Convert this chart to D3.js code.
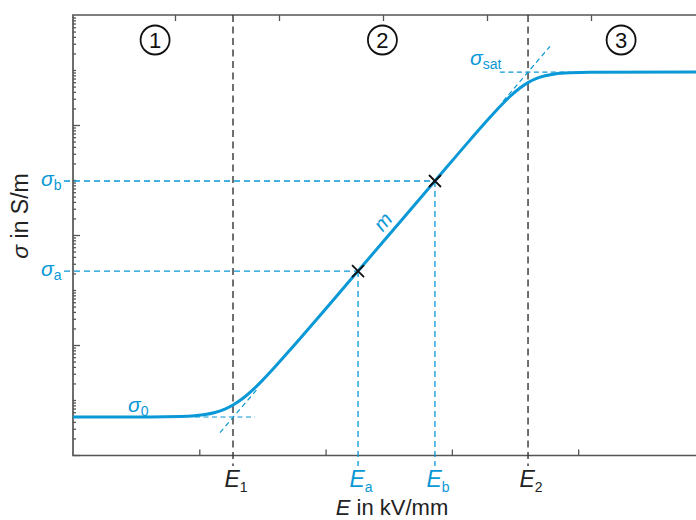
<!DOCTYPE html>
<html><head><meta charset="utf-8">
<script src="https://cdn.jsdelivr.net/npm/d3@7"></script>
<style>body{margin:0;background:#fff}text{font-family:"Liberation Sans",Arial,sans-serif}</style>
</head><body>
<svg id="c" width="696" height="520"></svg>
<script>
// ---- data ----
const curveE     = [0, 0.610, 0.847, 0.966, 1.045, 1.124, 1.203, 1.267, 1.338, 1.417, 1.496, 1.599, 1.718, 2.257, 2.866, 3.143, 3.302, 3.381, 3.460, 3.539, 3.603, 3.666, 3.737, 3.816, 3.935, 4.093, 4.933];
const curveSigma = [4.91, 4.92, 5.01, 5.19, 5.43, 5.93, 6.84, 8.11, 10.4, 14.8, 22.3, 40.0, 81.1, 2213, 95940, 5.31e5, 1.38e6, 2.17e6, 3.30e6, 4.71e6, 5.90e6, 6.95e6, 7.87e6, 8.49e6, 8.93e6, 9.12e6, 9.16e6];
const fieldNames  = ["1", "a", "b", "2"];
const fieldValues = [1.267, 2.257, 2.866, 3.603];
const fieldBlue   = [false, true, true, false];
const sigma0 = 4.91, sigmaSat = 9.16e6;
const pointE     = [2.257, 2.866];
const pointSigma = [2213, 95940];
const pointNames = ["a", "b"];
const regionLabels = ["1", "2", "3"];
const regionE      = [0.65, 2.45, 4.34];
const xTicksBottom = [1, 2, 3, 4];
const xTicksTop    = [1, 2, 3, 4, 5];

// ---- setup ----
const W = 696, H = 520;
const L = 73, T = 15, B = 455.5, R = 696;
const blue = "#0a98d6", ink = "#222", axisCol = "#555";
const svg = d3.select("#c");
const x = d3.scaleLinear().domain([0, 4.933]).range([L, R]);
const xTop = d3.scaleLinear().domain([0, 6]).range([71, 695]);
const y = d3.scaleLog().domain([1, 1e8]).range([B - 0.5, T]);

// log slope line through points a and b
const la = Math.log10(pointSigma[0]), lb = Math.log10(pointSigma[1]);
const slope = (lb - la) / (pointE[1] - pointE[0]);
const lineSigma = E => Math.pow(10, la + (E - pointE[0]) * slope);

// ---- axes ----
const gB = svg.append("g").attr("transform", `translate(0,${B})`)
  .call(d3.axisBottom(x).tickValues(xTicksBottom).tickSize(-6).tickFormat(""));
const gT = svg.append("g").attr("transform", `translate(0,${T})`)
  .call(d3.axisTop(xTop).tickValues(xTicksTop).tickSize(-6).tickFormat(""));
const yTicks = [];
for (let e = 0; e < 8; e++) for (let m = 1; m <= 9; m++) yTicks.push(m * Math.pow(10, e));
const gL = svg.append("g").attr("transform", `translate(${L},0)`)
  .call(d3.axisLeft(y).tickValues(yTicks).tickSize(-3).tickFormat(""));
gL.selectAll(".tick line").attr("x2", d => {
  const e = Math.round(Math.log10(d));
  const isDec = Math.abs(d - Math.pow(10, e)) < 1e-9 * d;
  return isDec && e % 2 === 0 ? 7 : 3;
});
[gB, gT, gL].forEach(g => {
  g.select(".domain").remove();
  g.selectAll(".tick line").attr("stroke", axisCol).attr("stroke-width", 1.3);
});
// frame
svg.append("path").attr("d", `M${R},${T}H${L}V${B}H${R}`)
  .attr("fill", "none").attr("stroke", axisCol).attr("stroke-width", 1.7);

// ---- dashed guide lines ----
fieldValues.forEach((E, i) => {
  const x0 = x(E);
  if (fieldBlue[i]) {
    const s = pointSigma[i - 1];
    svg.append("line").attr("x1", x0).attr("x2", x0).attr("y1", y(s)).attr("y2", 466)
      .attr("stroke", blue).attr("stroke-width", 1.3).attr("stroke-dasharray", "6,4");
    svg.append("line").attr("x1", 64).attr("x2", x0).attr("y1", y(s)).attr("y2", y(s))
      .attr("stroke", blue).attr("stroke-width", 1.3).attr("stroke-dasharray", "6,4");
  } else {
    svg.append("line").attr("x1", x0).attr("x2", x0).attr("y1", T).attr("y2", 466)
      .attr("stroke", "#333").attr("stroke-width", 1.4).attr("stroke-dasharray", "7,4.5");
  }
});
// tangents
const tang = [
  [[0.966, sigma0], [1.441, sigma0]],
  [[1.164, lineSigma(1.164)], [1.465, lineSigma(1.465)]],
  [[3.38, sigmaSat], [3.93, sigmaSat]],
  [[3.405, lineSigma(3.405)], [3.777, lineSigma(3.777)]]
];
tang.forEach(t => svg.append("line")
  .attr("x1", x(t[0][0])).attr("y1", y(t[0][1])).attr("x2", x(t[1][0])).attr("y2", y(t[1][1]))
  .attr("stroke", blue).attr("stroke-width", 1.2).attr("stroke-dasharray", "5,3.5"));

// ---- curve ----
const pts = curveE.map((E, i) => [E, curveSigma[i]]);
svg.append("path").datum(pts)
  .attr("d", d3.line().x(d => x(d[0])).y(d => y(d[1])).curve(d3.curveMonotoneX))
  .attr("fill", "none").attr("stroke", blue).attr("stroke-width", 3);

// crosses
pointE.forEach((E, i) => {
  const cx = x(E), cy = y(pointSigma[i]), r = 6;
  svg.append("path").attr("d", `M${cx - r},${cy - r}L${cx + r},${cy + r}M${cx - r},${cy + r}L${cx + r},${cy - r}`)
    .attr("stroke", "#111").attr("stroke-width", 1.8);
});

// ---- texts ----
function sub(sel, main, subTxt, size, subSize, italicMain) {
  sel.append("tspan").text(main).attr("font-style", italicMain ? "italic" : null).attr("font-size", size);
  sel.append("tspan").text(subTxt).attr("font-size", subSize).attr("dy", size * 0.2);
}
// E labels
fieldValues.forEach((E, i) => {
  const t = svg.append("text").attr("x", x(E) + 3).attr("y", 487).attr("text-anchor", "middle")
    .attr("fill", fieldBlue[i] ? blue : ink);
  sub(t, "E", fieldNames[i], 23, 14, true);
});
// sigma labels on y
pointSigma.forEach((s, i) => {
  const t = svg.append("text").attr("x", 41).attr("y", y(s) + 5).attr("fill", blue);
  sub(t, "σ", pointNames[i], 21, 14, true);
});
{
  const t = svg.append("text").attr("x", 128).attr("y", 412).attr("fill", blue);
  sub(t, "σ", "0", 21, 14, true);
  const t2 = svg.append("text").attr("x", 470).attr("y", 65).attr("fill", blue);
  sub(t2, "σ", "sat", 21, 14, true);
}
// slope label m
svg.append("text").attr("transform", `translate(388,226) rotate(-50)`)
  .attr("text-anchor", "middle").attr("fill", blue).attr("font-style", "italic").attr("font-size", 20).text("m");
// region circles
regionE.forEach((E, i) => {
  const cx = x(E), cy = 40;
  svg.append("circle").attr("cx", cx).attr("cy", cy).attr("r", 14.5)
    .attr("fill", "none").attr("stroke", "#111").attr("stroke-width", 1.8);
  svg.append("text").attr("x", cx).attr("y", cy + 8).attr("text-anchor", "middle")
    .attr("font-size", 22).attr("fill", "#111").text(regionLabels[i]);
});
// axis titles
{
  const t = svg.append("text").attr("x", 392).attr("y", 515).attr("text-anchor", "middle").attr("fill", ink).attr("font-size", 22);
  t.append("tspan").attr("font-style", "italic").text("E");
  t.append("tspan").text(" in kV/mm");
  const t2 = svg.append("text").attr("transform", "translate(28,216) rotate(-90)").attr("text-anchor", "middle").attr("fill", ink).attr("font-size", 23);
  t2.append("tspan").attr("font-style", "italic").text("σ");
  t2.append("tspan").text(" in S/m");
}
</script>
</body></html>
